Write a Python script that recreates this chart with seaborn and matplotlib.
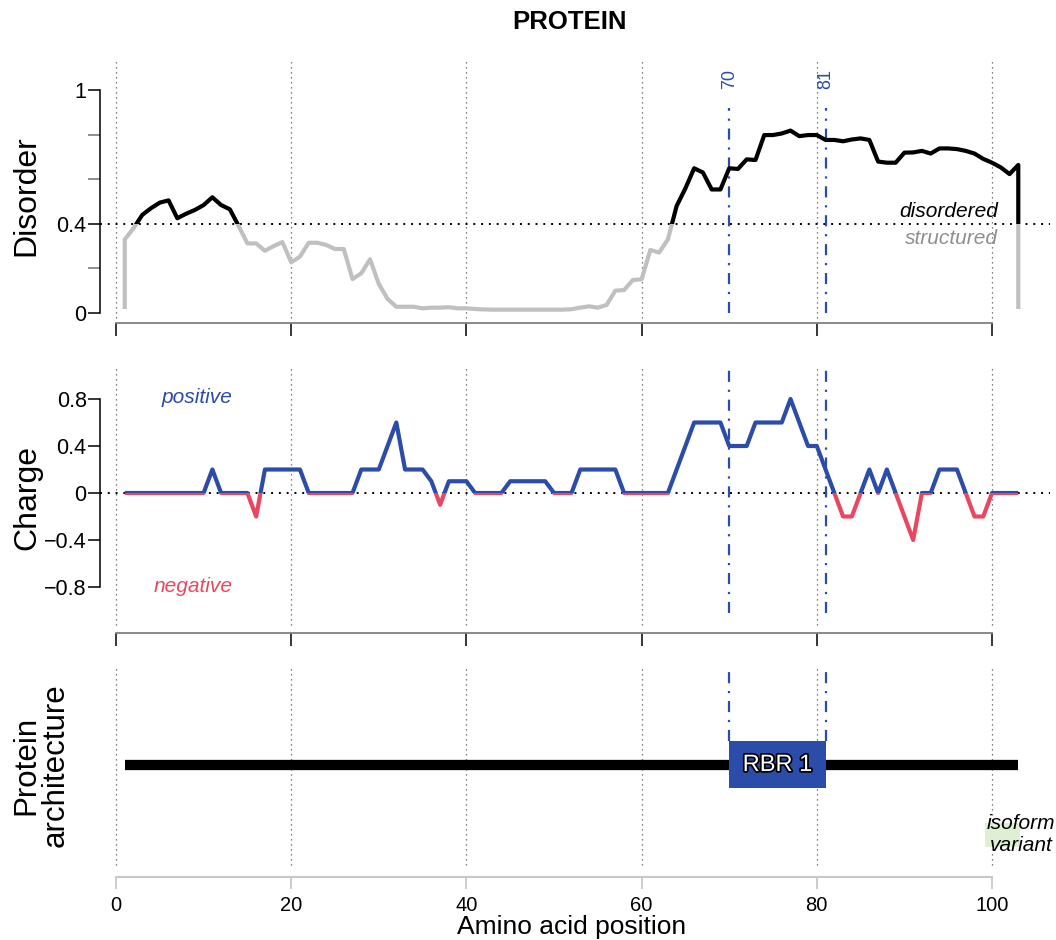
import matplotlib
matplotlib.use("Agg")
import matplotlib.pyplot as plt
import matplotlib.patheffects as pe
from matplotlib.patches import Rectangle
import pandas as pd
import seaborn as sns

# ---- data -------------------------------------------------------------
positions = list(range(1, 104))

disorder = [
    0.330, 0.380, 0.440, 0.470, 0.495, 0.505, 0.425, 0.445, 0.462, 0.484,
    0.519, 0.484, 0.465, 0.390, 0.312, 0.312, 0.279, 0.300, 0.318, 0.227,
    0.253, 0.315, 0.315, 0.305, 0.287, 0.287, 0.152, 0.178, 0.241, 0.130,
    0.063, 0.028, 0.028, 0.028, 0.021, 0.024, 0.024, 0.026, 0.021, 0.021,
    0.018, 0.016, 0.015, 0.015, 0.015, 0.015, 0.015, 0.015, 0.015, 0.015,
    0.015, 0.017, 0.024, 0.030, 0.024, 0.036, 0.100, 0.103, 0.148, 0.151,
    0.283, 0.271, 0.330, 0.480, 0.559, 0.649, 0.630, 0.554, 0.554, 0.649,
    0.646, 0.689, 0.686, 0.798, 0.798, 0.805, 0.818, 0.793, 0.798, 0.798,
    0.776, 0.776, 0.770, 0.778, 0.783, 0.776, 0.679, 0.674, 0.674, 0.719,
    0.720, 0.727, 0.715, 0.738, 0.738, 0.735, 0.727, 0.715, 0.691, 0.674,
    0.653, 0.623, 0.664,
]
disorder_floor = 0.018

charge = [
    0, 0, 0, 0, 0, 0, 0, 0, 0, 0,
    0.2, 0, 0, 0, 0, -0.2, 0.2, 0.2, 0.2, 0.2,
    0.2, 0, 0, 0, 0, 0, 0, 0.2, 0.2, 0.2,
    0.4, 0.6, 0.2, 0.2, 0.2, 0.1, -0.1, 0.1, 0.1, 0.1,
    0, 0, 0, 0, 0.1, 0.1, 0.1, 0.1, 0.1, 0,
    0, 0, 0.2, 0.2, 0.2, 0.2, 0.2, 0, 0, 0,
    0, 0, 0, 0.2, 0.4, 0.6, 0.6, 0.6, 0.6, 0.4,
    0.4, 0.4, 0.6, 0.6, 0.6, 0.6, 0.8, 0.6, 0.4, 0.4,
    0.2, 0, -0.2, -0.2, 0, 0.2, 0, 0.2, 0, -0.2,
    -0.4, 0, 0, 0.2, 0.2, 0.2, 0, -0.2, -0.2, 0,
    0, 0, 0,
]

threshold = 0.4
protein_length = 103
domain_name = "RBR 1"
domain_start, domain_end = 70, 81
isoform_start, isoform_end = 99.2, 103.2

x_ticks = [0, 20, 40, 60, 80, 100]
disorder_ticks = [0, 0.4, 1]
disorder_minor_ticks = [0.2, 0.6, 0.8]
charge_ticks = [-0.8, -0.4, 0, 0.4, 0.8]

# ---- style ------------------------------------------------------------
sns.set_theme(style="white")
plt.rcParams["font.family"] = ["Liberation Sans", "DejaVu Sans"]
plt.rcParams.update({
    "text.color": "black",
    "axes.labelcolor": "black",
    "xtick.color": "black",
    "ytick.color": "black",
})

BLUE = "#2b4ca8"
RED = "#e8475f"
GREY = "#c0c0c0"
W, H = 1056, 940
XLIM = (-1.826, 106.62)
GRID_STYLE = dict(ls=(0, (1, 3)), lw=0.9, color="#555555", zorder=0)
DASHDOT = dict(ls=(0, (5, 3.5, 1, 3.5)), lw=1.6, color=BLUE, zorder=3)

fig = plt.figure(figsize=(W / 100, H / 100), dpi=100)


def panel(top_px, bottom_px):
    ax = fig.add_axes([100 / W, 1 - bottom_px / H, 950 / W, (bottom_px - top_px) / H])
    ax.set_xlim(*XLIM)
    ax.patch.set_alpha(0)
    for s in ("top", "right"):
        ax.spines[s].set_visible(False)
    ax.set_xticks(x_ticks)
    return ax


def clipped_line(ax, df, ycol, color, y0, y1):
    sns.lineplot(data=df, x="pos", y=ycol, estimator=None, sort=False,
                 color=color, lw=3, ax=ax)
    line = ax.lines[-1]
    line.set_solid_joinstyle("round")
    line.set_solid_capstyle("butt")
    clip = Rectangle((-50, y0), 300, y1 - y0, transform=ax.transData)
    line.set_clip_path(clip)
    line.set_zorder(4)


def vertical(ax, x, y0, y1, **kw):
    ax.plot([x, x], [y0, y1], **kw)


# ---- disorder panel ---------------------------------------------------
ax1 = panel(60, 323)
ax1.set_ylim(-0.0448, 1.1345)
dis_df = pd.DataFrame({
    "pos": [positions[0]] + positions + [positions[-1]],
    "disorder": [disorder_floor] + disorder + [disorder_floor],
})
clipped_line(ax1, dis_df, "disorder", "black", threshold, 5)
clipped_line(ax1, dis_df, "disorder", GREY, -5, threshold)
for x in x_ticks:
    vertical(ax1, x, -0.022, 1.1345, **GRID_STYLE)
ax1.axhline(threshold, ls=(0, (1, 3)), lw=1.4, color="black", zorder=2)
for d in (domain_start, domain_end):
    vertical(ax1, d, 0, 0.919, **DASHDOT)
    ax1.text(d, 1.004, str(d), rotation=90, ha="center", va="bottom",
             color=BLUE, fontsize=13)
ax1.text(100.7, 0.457, "disordered", style="italic", ha="right", va="center",
         fontsize=15, color="black")
ax1.text(100.7, 0.336, "structured", style="italic", ha="right", va="center",
         fontsize=15, color="#8f8f8f")
ax1.set_yticks(disorder_ticks)
ax1.set_yticklabels(["0", "0.4", "1"])
ax1.set_yticks(disorder_minor_ticks, minor=True)
ax1.spines["left"].set_bounds(0, 1)
ax1.spines["left"].set_color("black")
ax1.spines["left"].set_linewidth(1.1)
ax1.spines["bottom"].set_bounds(0, 100)
ax1.spines["bottom"].set_color("#808080")
ax1.spines["bottom"].set_linewidth(1.3)
ax1.tick_params(axis="y", which="major", left=True, length=8.6, width=1.1,
                color="black", labelsize=15.5, pad=1, labelcolor="black")
ax1.tick_params(axis="y", which="minor", left=True, length=8.6, width=1.1,
                color="#707070")
ax1.tick_params(axis="x", bottom=True, length=9.5, width=1.1, color="black",
                labelbottom=False)
ax1.set_xlabel("")
ax1.set_ylabel("")

# ---- charge panel -----------------------------------------------------
ax2 = panel(365, 633)
ax2.set_ylim(-1.1915, 1.0894)
chg_df = pd.DataFrame({"pos": positions, "charge": charge})
clipped_line(ax2, chg_df, "charge", RED, -5, 0)
clipped_line(ax2, chg_df, "charge", BLUE, 0, 5)
for x in x_ticks:
    vertical(ax2, x, -1.123, 1.064, **GRID_STYLE)
ax2.axhline(0, ls=(0, (1, 3)), lw=1.4, color="black", zorder=2)
for d in (domain_start, domain_end):
    vertical(ax2, d, -1.02, 1.0894, **DASHDOT)
ax2.text(13.3, 0.815, "positive", style="italic", ha="right", va="center",
         fontsize=15, color=BLUE)
ax2.text(13.3, -0.80, "negative", style="italic", ha="right", va="center",
         fontsize=15, color=RED)
ax2.set_yticks(charge_ticks)
ax2.set_yticklabels(["\u22120.8", "\u22120.4", "0", "0.4", "0.8"])
ax2.spines["left"].set_bounds(-0.8, 0.8)
ax2.spines["left"].set_color("black")
ax2.spines["left"].set_linewidth(1.1)
ax2.spines["bottom"].set_bounds(0, 100)
ax2.spines["bottom"].set_color("#808080")
ax2.spines["bottom"].set_linewidth(1.3)
ax2.tick_params(axis="y", left=True, length=8.6, width=1.1, color="black",
                labelsize=15.5, pad=1, labelcolor="black")
ax2.tick_params(axis="x", bottom=True, length=9.5, width=1.1, color="black",
                labelbottom=False)
ax2.set_xlabel("")
ax2.set_ylabel("")

# ---- architecture panel -----------------------------------------------
ax3 = panel(668, 877)
ax3.set_ylim(0, 1)
ax3.spines["left"].set_visible(False)
ax3.set_yticks([])
for x in x_ticks:
    vertical(ax3, x, 0.057, 1.0, **GRID_STYLE)
ax3.plot([1, protein_length], [0.536, 0.536], color="black", lw=7.4,
         solid_capstyle="butt", zorder=3)
for d in (domain_start, domain_end):
    vertical(ax3, d, 0.651, 0.981, **DASHDOT)
ax3.add_patch(Rectangle((domain_start, 0.426), domain_end - domain_start, 0.225,
                        facecolor=BLUE, edgecolor="none", zorder=4))
ax3.text((domain_start + domain_end) / 2, 0.536, domain_name, color="white",
         fontsize=17, ha="center", va="center", zorder=5,
         path_effects=[pe.withStroke(linewidth=2.5, foreground="black")])
ax3.add_patch(Rectangle((isoform_start, 0.144), isoform_end - isoform_start, 0.114,
                        facecolor="#dff0d2", edgecolor="none", zorder=1))
ax3.text(103.3, 0.201, "isoform\nvariant", style="italic", ha="center",
         va="center", fontsize=15, linespacing=1.2, zorder=5, color="black")
ax3.spines["bottom"].set_bounds(0, 100)
ax3.spines["bottom"].set_color("#c8c8c8")
ax3.spines["bottom"].set_linewidth(1.5)
ax3.tick_params(axis="x", bottom=True, length=8.5, width=1.3, color="#c8c8c8",
                labelsize=14.5, pad=5, labelcolor="black")
ax3.set_xlabel("")
ax3.set_ylabel("")

# ---- figure texts -----------------------------------------------------
fig.text(569.5 / W, 1 - 22 / H, "PROTEIN", ha="center", va="center",
         fontsize=18.5, fontweight="bold", color="black")
fig.text(26 / W, 1 - 196 / H, "Disorder", rotation=90, ha="center",
         va="center", fontsize=23, color="black")
fig.text(27 / W, 1 - 497 / H, "Charge", rotation=90, ha="center",
         va="center", fontsize=23, color="black")
fig.text(41 / W, 1 - 765 / H, "Protein\narchitecture", rotation=90,
         ha="center", va="center", fontsize=22.5, linespacing=0.95,
         color="black")
fig.text(572 / W, 1 - 927 / H, "Amino acid position", ha="center",
         va="center", fontsize=19, color="black")

fig.savefig("out.png", dpi=100)
